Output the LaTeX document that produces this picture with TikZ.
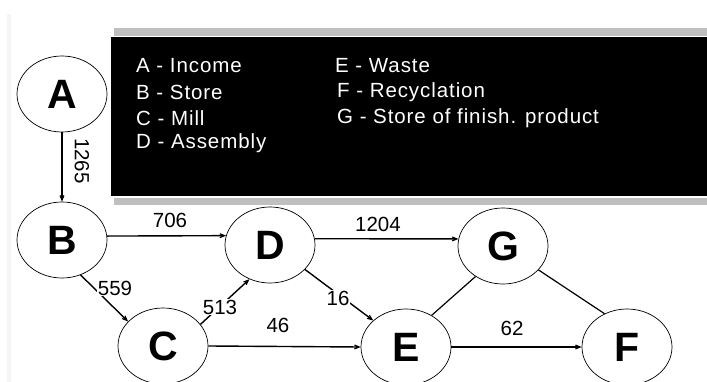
\documentclass[tikz,border=0pt]{standalone}
\usepackage{fontspec}
\setmainfont{Liberation Sans}
\newfontfamily\legendfont[LetterSpace=4.5]{Liberation Sans}
\usetikzlibrary{shapes.geometric,arrows.meta}
\begin{document}
\begin{tikzpicture}[x=1pt,y=-1pt,
 state/.style={ellipse,draw,line width=0.7pt,minimum width=90pt,minimum height=76pt,inner sep=0pt,font=\fontsize{41}{41}\selectfont\bfseries},
 flow/.style={line width=1.4pt,-{Stealth[length=11pt,width=9pt,inset=7pt]}},
 link/.style={line width=1.2pt},
 lab/.style={font=\fontsize{20.5}{20.5}\selectfont,inner sep=1pt},
 wlab/.style={lab,fill=white},
 legend/.style={font=\legendfont\fontsize{20.5}{20.5}\selectfont,text=white,anchor=west,inner sep=0pt}]
\useasboundingbox (0,0) rectangle (707,382);
\fill[white] (0,0) rectangle (707,382);
\fill[gray!8] (7,14) rectangle (11,382);
\fill[gray!50] (114,28) rectangle (707,36);
\fill[gray!50] (114,198) rectangle (707,205);
\fill[black] (111,37) rectangle (707,196);
% legend
\node[legend] (la) at (136,66) {A - Income};
\node[legend] (lb) at (136,92) {B - Store};
\node[legend] (lc) at (136,118) {C - Mill};
\node[legend] (ld) at (136,143) {D - Assembly};
\node[legend] (le) at (335,66) {E - Waste};
\node[legend] (lf) at (337,92) {F - Recyclation};
\node[legend] (lg) at (337,118) {G - Store of finish. product};
% states
\node[state] (A) at (62,94) {A};
\node[state] (B) at (62,240) {B};
\node[state] (D) at (270,245) {D};
\node[state] (C) at (163,346) {C};
\node[state] (G) at (503,246) {G};
\node[state] (E) at (406,347) {E};
\node[state] (F) at (627,347) {F};
% flows
\draw[flow] (A) -- (B);
\draw[flow] (B.5) -- (D.168);
\draw[flow] (D.8) -- (G.171);
\draw[flow] (C.east) -- (E.west);
\draw[flow] (E.east) -- (F.west);
\draw[flow] (B.-62) -- (C.145);
\draw[flow] (C.30) -- (D.239);
\draw[flow] (D.-35) -- (E.141);
\draw[link] (E.51) -- (G.228);
\draw[link] (G.-34) -- (F.124);
% labels
\node[lab,rotate=-90] (n1265) at (82,161) {1265};
\node[lab] (n706) at (170,220) {706};
\node[lab] (n1204) at (378,224) {1204};
\node[wlab] (n559) at (115,288) {559};
\node[wlab] (n513) at (220,307) {513};
\node[wlab] (n16) at (338,298) {16};
\node[lab] (n46) at (278,325) {46};
\node[lab] (n62) at (512,328) {62};
\end{tikzpicture}
\end{document}
